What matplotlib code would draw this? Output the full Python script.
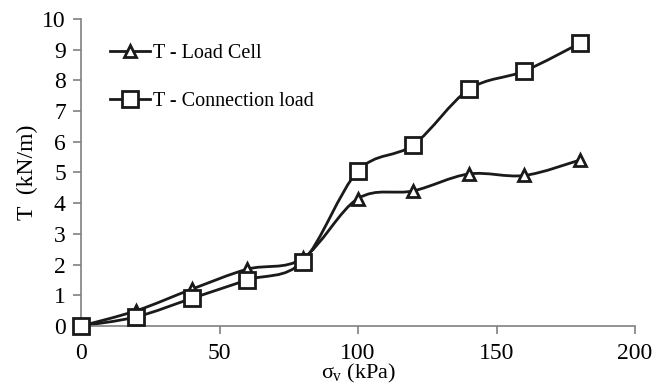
import matplotlib.pyplot as plt
from matplotlib.path import Path
from matplotlib.patches import PathPatch
import numpy as np

plt.rcParams['font.family'] = ['Liberation Serif', 'DejaVu Serif']
plt.rcParams['mathtext.fontset'] = 'custom'
plt.rcParams['mathtext.rm'] = 'Liberation Serif'
plt.rcParams['mathtext.it'] = 'Liberation Serif'

# data
sigma_v = [0, 20, 40, 60, 80, 100, 120, 140, 160, 180]
t_load_cell = [0, 0.5, 1.2, 1.85, 2.2, 4.15, 4.4, 4.95, 4.9, 5.4]
t_connection = [0, 0.3, 0.9, 1.5, 2.1, 5.05, 5.9, 7.7, 8.3, 9.2]


def smooth_path(x, y):
    """Bezier path through the points, like a spreadsheet smoothed line"""
    p = np.column_stack([x, y]).astype(float)
    verts = [p[0]]
    codes = [Path.MOVETO]
    n = len(p)
    for i in range(n - 1):
        p0 = p[i - 1] if i > 0 else p[i]
        p3 = p[i + 2] if i + 2 < n else p[i + 1]
        c1 = p[i] + (p[i + 1] - p0) / 6
        c2 = p[i + 1] - (p3 - p[i]) / 6
        verts += [c1, c2, p[i + 1]]
        codes += [Path.CURVE4] * 3
    return Path(verts, codes)


fig = plt.figure(figsize=(6.54, 3.84), dpi=100)
ax = fig.add_axes([0.124, 0.151, 0.847, 0.80])

for ys, mk, ms, lab in [(t_load_cell, '^', 9, 'T - Load Cell'),
                        (t_connection, 's', 11, 'T - Connection load')]:
    ax.add_patch(PathPatch(smooth_path(sigma_v, ys), fill=False,
                           edgecolor='#1a1a1a', lw=2, zorder=2))
    ax.plot(sigma_v, ys, ls='none', marker=mk, ms=ms, mfc='white',
            mec='#1a1a1a', mew=2, zorder=3, clip_on=False)
    ax.plot([], [], color='#1a1a1a', lw=2, marker=mk, ms=ms, mfc='white',
            mec='#1a1a1a', mew=2, label=lab)

ax.set_xlim(0, 200)
ax.set_ylim(0, 10)
ax.set_xticks([0, 50, 100, 150, 200])
ax.set_yticks(range(0, 11))
for s in ['top', 'right']:
    ax.spines[s].set_visible(False)
for s in ['left', 'bottom']:
    ax.spines[s].set_color('#808080')
    ax.spines[s].set_linewidth(1.2)
ax.tick_params(direction='out', length=6, width=1.2, color='#808080',
               labelsize=17)
ax.tick_params(axis='y', pad=5)
ax.tick_params(axis='x', pad=6)

ax.set_ylabel('T  (kN/m)', fontsize=17, labelpad=3)
ax.set_xlabel(r'$\sigma_\mathrm{v}$ (kPa)', fontsize=16, labelpad=-1)

ax.legend(loc='upper left', bbox_to_anchor=(0.038, 0.945), frameon=False,
          fontsize=14.5, handlelength=2.0, handletextpad=0.15,
          labelspacing=1.45, borderaxespad=0)

fig.savefig('out.png', dpi=100)
